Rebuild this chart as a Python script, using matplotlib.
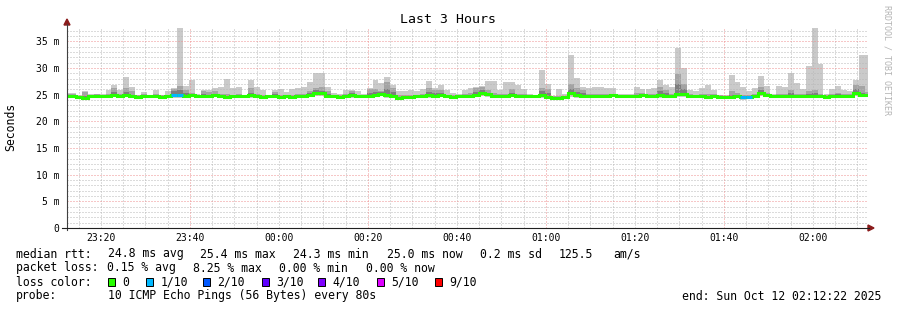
import matplotlib
matplotlib.use("Agg")
import matplotlib.pyplot as plt
import matplotlib.dates as mdates
from matplotlib.lines import Line2D
from matplotlib.patches import Polygon, Rectangle
from datetime import datetime, timedelta
import numpy as np

# one value per 80 s step (first step is cut by the left edge)
median = [24.8,
          24.8, 24.5, 24.4, 24.7, 24.8, 24.7, 24.8, 25.0, 24.7, 25.0,
          24.8, 24.6, 24.8, 24.7, 24.8, 24.6, 24.7, 24.9, 24.9, 24.8,
          24.9, 24.7, 24.8, 24.8, 24.9, 24.7, 24.6, 24.7, 24.7, 24.7,
          24.9, 24.7, 24.6, 24.7, 24.8, 24.6, 24.7, 24.6, 24.8, 24.8,
          25.0, 25.4, 25.3, 24.8, 24.7, 24.6, 24.7, 24.9, 24.7, 24.8,
          24.8, 25.0, 25.2, 24.9, 24.8, 24.4, 24.5, 24.6, 24.7, 24.8,
          24.9, 24.8, 24.9, 24.7, 24.6, 24.8, 24.7, 24.8, 25.0, 25.3,
          25.1, 24.8, 24.8, 24.7, 24.9, 24.7, 24.8, 24.7, 24.8, 24.9,
          24.6, 24.4, 24.4, 24.5, 25.3, 24.9, 24.8, 24.8, 24.7, 24.8,
          24.8, 24.9, 24.8, 24.8, 24.7, 24.8, 24.9, 24.8, 24.8, 24.9,
          24.8, 24.8, 25.2, 25.1, 24.8, 24.7, 24.7, 24.6, 24.7, 24.6,
          24.5, 24.5, 24.8, 24.6, 24.6, 24.8, 25.4, 24.9, 24.8, 24.7,
          24.8, 24.8, 24.7, 24.8, 24.7, 24.8, 24.8, 24.6, 24.7, 24.8,
          24.8, 24.8, 25.3, 24.9, 24.9]

ping_max = [25.3,
            25.3, 25.0, 25.6, 25.2, 25.2, 25.2, 25.8, 26.9, 25.8, 28.4,
            26.5, 25.0, 25.5, 25.0, 25.8, 25.0, 25.6, 26.3, 37.5, 26.6,
            27.8, 25.1, 25.9, 25.9, 26.3, 26.5, 28.0, 26.3, 26.5, 25.0,
            27.7, 26.5, 25.9, 25.0, 25.8, 26.1, 25.5, 26.1, 26.3, 26.4,
            27.3, 29.1, 29.1, 26.4, 25.3, 25.1, 25.9, 25.9, 25.6, 25.2,
            26.2, 27.7, 27.1, 28.3, 26.8, 25.7, 25.7, 25.9, 25.7, 26.0,
            27.5, 26.3, 26.8, 25.9, 25.3, 25.2, 25.9, 26.3, 26.5, 26.6,
            27.5, 27.5, 25.9, 27.4, 27.4, 26.8, 26.0, 25.2, 25.0, 29.6,
            27.0, 24.8, 26.0, 25.2, 32.4, 28.2, 26.5, 26.2, 26.5, 26.5,
            26.3, 26.2, 25.2, 25.1, 25.2, 26.5, 26.0, 26.0, 26.3, 27.7,
            26.8, 26.5, 33.8, 30.0, 25.9, 25.6, 26.2, 26.9, 25.9, 25.0,
            25.0, 28.6, 27.4, 26.5, 25.6, 26.2, 28.5, 26.6, 25.2, 26.6,
            26.5, 29.1, 27.1, 26.0, 30.35, 37.5, 30.7, 25.2, 26.0, 26.6,
            25.9, 25.6, 27.7, 32.4, 32.4]

ping_9 = [25.1,
          25.1, 24.8, 25.5, 25.0, 25.1, 25.0, 25.2, 26.2, 25.1, 26.3,
          25.6, 24.9, 25.1, 24.9, 25.2, 24.9, 25.0, 26.0, 26.7, 25.9,
          25.4, 25.0, 25.6, 25.5, 25.6, 25.1, 25.2, 25.0, 25.1, 24.9,
          26.2, 25.2, 25.0, 24.9, 25.5, 25.0, 25.0, 25.0, 25.2, 25.2,
          25.6, 26.2, 26.4, 25.6, 25.0, 24.9, 25.1, 25.7, 25.0, 25.0,
          26.0, 26.0, 25.7, 27.3, 26.3, 24.9, 24.9, 25.0, 25.0, 25.2,
          26.2, 25.9, 25.9, 25.0, 24.9, 25.0, 25.1, 25.3, 26.2, 26.5,
          25.9, 25.3, 25.1, 25.2, 26.0, 25.2, 25.1, 25.0, 24.95, 26.2,
          26.0, 24.7, 24.8, 24.8, 27.0, 26.3, 25.9, 25.1, 25.1, 25.2,
          25.1, 25.2, 25.0, 25.0, 25.0, 25.3, 25.3, 25.2, 25.2, 26.5,
          25.9, 25.2, 28.8, 27.0, 25.2, 25.0, 25.1, 25.2, 25.1, 24.9,
          24.8, 25.6, 25.3, 25.0, 25.0, 25.2, 26.5, 25.3, 25.0, 25.1,
          25.2, 25.9, 25.1, 25.1, 25.6, 25.9, 25.2, 24.9, 25.1, 25.4,
          25.2, 25.1, 26.8, 26.6, 25.5]

ping_8 = [25.0,
          25.0, 24.7, 24.7, 24.9, 25.0, 24.9, 25.0, 25.5, 24.9, 25.5,
          25.0, 24.8, 25.0, 24.9, 25.0, 24.8, 24.9, 25.6, 25.9, 25.3,
          25.1, 24.9, 25.2, 25.0, 25.2, 24.9, 24.8, 24.9, 24.9, 24.9,
          25.4, 24.9, 24.8, 24.9, 25.1, 24.8, 24.9, 24.8, 25.0, 25.0,
          25.3, 25.8, 25.6, 25.1, 24.9, 24.8, 24.9, 25.3, 24.9, 25.0,
          25.4, 25.5, 25.5, 26.0, 25.5, 24.6, 24.7, 24.8, 24.9, 25.0,
          25.5, 25.3, 25.3, 24.9, 24.8, 25.0, 24.9, 25.0, 25.5, 25.8,
          25.4, 25.0, 25.0, 24.9, 25.3, 24.9, 25.0, 24.9, 25.0, 25.6,
          25.3, 24.6, 24.6, 24.7, 26.0, 25.5, 25.3, 25.0, 24.9, 25.0,
          25.0, 25.1, 25.0, 25.0, 24.9, 25.0, 25.1, 25.0, 25.0, 25.6,
          25.3, 25.0, 27.0, 26.0, 25.0, 24.9, 24.9, 24.8, 24.9, 24.8,
          24.7, 25.0, 25.0, 24.8, 24.8, 25.0, 25.8, 25.1, 25.0, 24.9,
          25.0, 25.3, 24.9, 25.0, 25.1, 25.3, 25.0, 24.8, 24.9, 25.1,
          25.0, 25.0, 26.0, 25.4, 25.1]

ping_min = [24.4,
            24.4, 24.1, 24.0, 24.3, 24.4, 24.3, 24.4, 24.5, 24.3, 24.5,
            24.4, 24.2, 24.4, 24.3, 24.4, 24.1, 24.3, 24.4, 24.4, 24.4,
            24.5, 24.3, 24.4, 24.4, 24.5, 24.3, 24.2, 24.3, 24.3, 24.3,
            24.4, 24.3, 24.2, 24.3, 24.4, 24.2, 24.3, 24.2, 24.4, 24.4,
            24.5, 24.8, 24.7, 24.4, 24.3, 24.2, 24.3, 24.4, 24.3, 24.4,
            24.4, 24.5, 24.7, 24.4, 24.4, 24.0, 24.1, 24.2, 24.3, 24.4,
            24.4, 24.4, 24.5, 24.3, 24.2, 24.4, 24.3, 24.4, 24.5, 24.8,
            24.6, 24.4, 24.4, 24.3, 24.5, 24.3, 24.4, 24.3, 24.4, 24.4,
            24.2, 24.0, 24.1, 24.1, 24.6, 24.4, 24.4, 24.4, 24.3, 24.4,
            24.4, 24.5, 24.4, 24.4, 24.3, 24.4, 24.5, 24.4, 24.4, 24.4,
            24.4, 24.4, 24.6, 24.5, 24.4, 24.3, 24.3, 24.2, 24.3, 24.2,
            24.1, 24.1, 24.4, 24.0, 24.1, 24.4, 24.8, 24.5, 24.4, 24.3,
            24.4, 24.4, 24.3, 24.4, 24.3, 24.4, 24.4, 24.2, 24.3, 24.4,
            24.4, 24.4, 24.7, 24.5, 24.5]

loss_1_steps = [18, 19, 114, 115]   # steps with 1/10 packets lost

loss_labels = ['0', '1/10', '2/10', '3/10', '4/10', '5/10', '9/10']
loss_colors = ['#26ff00', '#00b8ff', '#0059ff', '#5e00ff', '#7e00ff', '#dd00ff', '#ff0000']

y_ticks = [0, 5, 10, 15, 20, 25, 30, 35]
y_labels = ['0', '5 m', '10 m', '15 m', '20 m', '25 m', '30 m', '35 m']

t_start = datetime(2025, 10, 11, 23, 12, 22)
t_end = datetime(2025, 10, 12, 2, 12, 22)
t_first = datetime(2025, 10, 11, 23, 11, 42)
step = 80

W, H = 897, 310
MONO = 'DejaVu Sans Mono'
GRID = '#b8b8b8'
MGRID = '#ee9090'


def fx(x):
    return x / W


def fy(y):
    return 1 - y / H


fig = plt.figure(figsize=(W / 100, H / 100), dpi=100)
fig.patch.set_facecolor('white')
ax = fig.add_axes([fx(67), fy(228), 801 / W, 200 / H])

n = len(median)
edges = mdates.date2num([t_first + timedelta(seconds=step * i) for i in range(n + 1)])
left = edges[:-1]
wd = step / 86400.0
med = np.array(median)

# smoke
ax.bar(left, np.array(ping_max) - np.array(ping_min), bottom=ping_min, width=wd,
       align='edge', color='#cacaca', linewidth=0, zorder=1)
ax.bar(left, np.array(ping_9) - med, bottom=med, width=wd,
       align='edge', color='#a4a4a4', linewidth=0, zorder=1.1)
ax.bar(left, np.array(ping_8) - med, bottom=med, width=wd,
       align='edge', color='#7e7e7e', linewidth=0, zorder=1.2)

# grid
minor_y = [v for v in range(1, 38) if v % 5]
for v in minor_y:
    ax.axhline(v, color=GRID, lw=0.72, ls=(0, (1, 2)), zorder=1.5)
for v in y_ticks[1:]:
    ax.axhline(v, color=MGRID, lw=0.72, ls=(0, (1, 2)), zorder=1.6)
t = datetime(2025, 10, 11, 23, 15)
while t < t_end:
    red = (t.minute == 40 and t.hour == 23) or (t.hour, t.minute) in [(0, 20), (1, 0), (1, 40)]
    ax.axvline(mdates.date2num(t), color=MGRID if red else GRID, lw=0.72,
               ls=(0, (1, 2)), zorder=1.5)
    t += timedelta(minutes=5)

# median line coloured by loss
ax.stairs(med, edges, baseline=None, color=loss_colors[0], lw=2.2, zorder=3)
for i in loss_1_steps:
    ax.hlines(med[i], edges[i], edges[i + 1], color=loss_colors[1], lw=2.2, zorder=3.1)

ax.set_xlim(mdates.date2num(t_start), mdates.date2num(t_end))
ax.set_ylim(0, 37.5)
for s in ax.spines.values():
    s.set_visible(False)
ax.set_facecolor('white')

ax.xaxis.set_major_locator(mdates.MinuteLocator(byminute=[0, 20, 40]))
ax.xaxis.set_major_formatter(mdates.DateFormatter('%H:%M'))
ax.set_yticks(y_ticks)
ax.set_yticklabels(y_labels)
ax.tick_params(axis='both', length=0, labelsize=7)
ax.tick_params(axis='x', pad=3.5)
ax.tick_params(axis='y', pad=5.5)
for lab in ax.get_xticklabels() + ax.get_yticklabels():
    lab.set_family(MONO)

# axes with arrows
fig.add_artist(Line2D([fx(67), fx(67)], [fy(230), fy(24)], color='#404040', lw=0.8))
fig.add_artist(Line2D([fx(62), fx(869)], [fy(228), fy(228)], color='#202020', lw=0.8))
fig.add_artist(Polygon([(fx(64), fy(25)), (fx(70), fy(25)), (fx(67), fy(19))],
                       closed=True, color='#8b1c1c'))
fig.add_artist(Polygon([(fx(868), fy(225)), (fx(868), fy(231)), (fx(874), fy(228))],
                       closed=True, color='#8b1c1c'))

# title, axis label, watermark
fig.text(fx(448), fy(23), 'Last 3 Hours', ha='center', va='baseline', family=MONO, size=9.5)
fig.text(fx(11), fy(127), 'Seconds', ha='center', va='center', rotation=90, family=MONO, size=8.3)
fig.text(fx(886.5), fy(5), 'RRDTOOL / TOBI OETIKER', ha='center', va='top', rotation=270,
         family=MONO, size=6, color='#b4b4b4')

# legend
def txt(x, y, s, **kw):
    fig.text(fx(x), fy(y), s, ha='left', va='baseline', family=MONO, size=8.3, **kw)


txt(16, 257.5, 'median rtt:')
for x, s in [(107.7, '24.8 ms avg'), (200, '25.4 ms max'), (293.3, '24.3 ms min'),
             (386.7, '25.0 ms now'), (480, '0.2 ms sd'), (559, '125.5'), (613, 'am/s')]:
    txt(x, 257.5, s)
txt(16, 271.5, 'packet loss:')
for x, s in [(107.3, '0.15 % avg'), (193.3, '8.25 % max'), (279.3, '0.00 % min'),
             (365.7, '0.00 % now')]:
    txt(x, 271.5, s)
txt(16, 285.5, 'loss color:')
box_x = [108, 146, 203, 262, 318, 377, 435]
for bx, c, lab in zip(box_x, loss_colors, loss_labels):
    fig.add_artist(Rectangle((fx(bx), fy(286)), 7 / W, 8 / H, facecolor=c,
                             edgecolor='black', lw=0.7))
    txt(bx + 14.5, 285.5, lab)
txt(16, 299.5, 'probe:')
txt(107.7, 299.5, '10 ICMP Echo Pings (56 Bytes) every 80s')
fig.text(fx(881), fy(299.5), 'end: Sun Oct 12 02:12:22 2025', ha='right', va='baseline',
         family=MONO, size=8.3)

fig.savefig('out.png', dpi=100)
